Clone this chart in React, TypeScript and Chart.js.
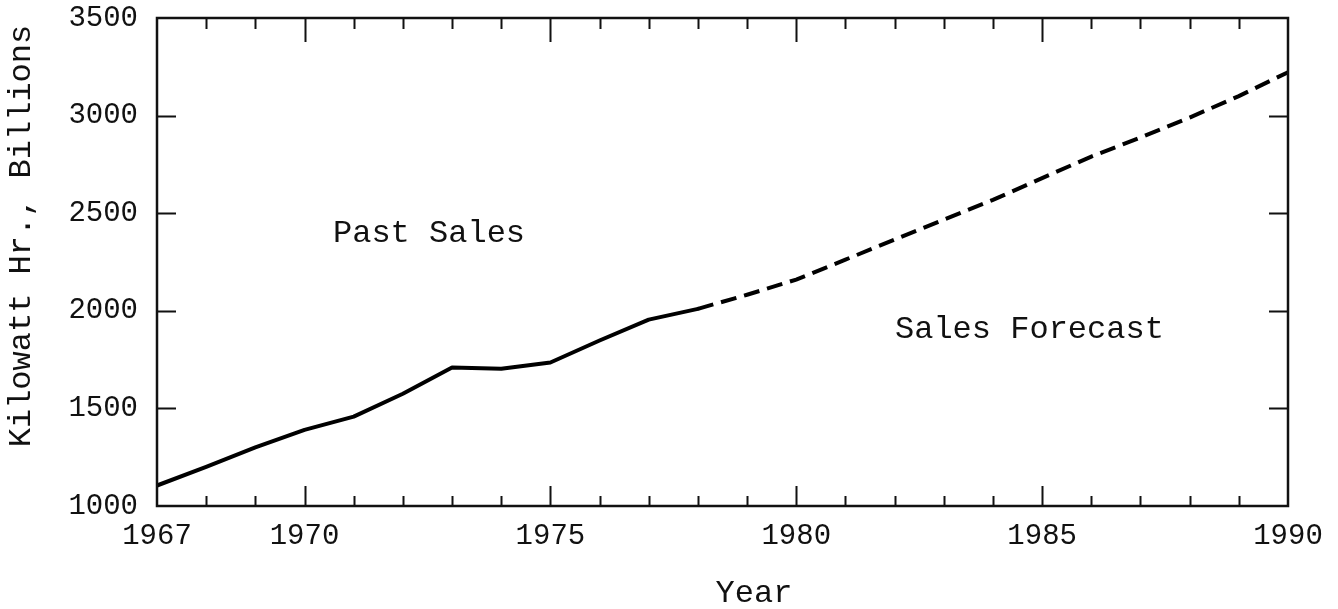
import React, { useEffect, useRef } from "react";
import { Chart, registerables } from "chart.js";

Chart.register(...registerables);

const pastYears = [1967, 1968, 1969, 1970, 1971, 1972, 1973, 1974, 1975, 1976, 1977, 1978];
const pastSales = [1105, 1200, 1300, 1390, 1458, 1575, 1710, 1703, 1735, 1848, 1955, 2010];

const forecastYears = [1978, 1979, 1980, 1981, 1982, 1983, 1984, 1985, 1986, 1987, 1988, 1989, 1990];
const forecastSales = [2010, 2082, 2160, 2262, 2365, 2467, 2568, 2680, 2790, 2888, 2990, 3100, 3222];

const xTickLabels = [1967, 1970, 1975, 1980, 1985, 1990];
const xMinorTicks = [1968, 1969, 1970, 1971, 1972, 1973, 1974, 1975, 1976, 1977, 1978, 1979, 1980, 1981, 1982, 1983, 1984, 1985, 1986, 1987, 1988, 1989];
const xMajorTicks = [1970, 1975, 1980, 1985];
const yTickLabels = [1000, 1500, 2000, 2500, 3000, 3500];

const FONT = "'Liberation Mono', 'DejaVu Sans Mono', monospace";
const INK = "#111";

const framePlugin = {
  id: "framePlugin",
  afterDraw(chart: any) {
    const { ctx, chartArea, scales } = chart;
    const { left, right, top, bottom } = chartArea;
    const xs = scales.x;
    const ys = scales.y;
    ctx.save();
    ctx.strokeStyle = INK;
    ctx.lineWidth = 2.5;
    ctx.strokeRect(left, top, right - left, bottom - top);
    ctx.lineWidth = 2;
    ctx.beginPath();
    for (const yr of xMinorTicks) {
      const px = Math.round(xs.getPixelForValue(yr)) + 0.5;
      const major = xMajorTicks.includes(yr);
      ctx.moveTo(px, bottom);
      ctx.lineTo(px, bottom - (major ? 20 : 10));
      ctx.moveTo(px, top);
      ctx.lineTo(px, top + (major ? 24 : 11));
    }
    for (const v of yTickLabels) {
      if (v === yTickLabels[0] || v === yTickLabels[yTickLabels.length - 1]) continue;
      const py = Math.round(ys.getPixelForValue(v)) + 0.5;
      ctx.moveTo(left, py);
      ctx.lineTo(left + 19, py);
      ctx.moveTo(right, py);
      ctx.lineTo(right - 19, py);
    }
    ctx.stroke();

    ctx.fillStyle = INK;
    ctx.font = `32px ${FONT}`;
    ctx.textBaseline = "middle";
    ctx.textAlign = "left";
    ctx.fillText("Past Sales", 333, 234);
    ctx.fillText("Sales Forecast", 895, 330);

    ctx.textAlign = "center";
    ctx.fillText("Year", 754, 594);

    ctx.translate(22, 236);
    ctx.rotate(-Math.PI / 2);
    ctx.fillText("Kilowatt Hr., Billions", 0, 0);
    ctx.restore();
  },
};

export default function App() {
  const ref = useRef<HTMLCanvasElement | null>(null);

  useEffect(() => {
    document.body.style.margin = "0";
    const canvas = ref.current;
    if (!canvas) return;
    const chart = new Chart(canvas, {
      type: "line",
      data: {
        datasets: [
          {
            label: "Past Sales",
            data: pastYears.map((x, i) => ({ x, y: pastSales[i] })),
            borderColor: "#000",
            borderWidth: 4,
            pointRadius: 0,
            tension: 0,
            fill: false,
            borderJoinStyle: "round",
            borderCapStyle: "round",
          },
          {
            label: "Sales Forecast",
            data: forecastYears.map((x, i) => ({ x, y: forecastSales[i] })),
            borderColor: "#000",
            borderWidth: 4,
            borderDash: [16, 8],
            pointRadius: 0,
            tension: 0,
            fill: false,
            borderCapStyle: "butt",
          },
        ],
      },
      options: {
        responsive: false,
        animation: false,
        devicePixelRatio: 1,
        layout: { padding: { left: 0, right: 50, top: 18, bottom: 0 } },
        plugins: {
          legend: { display: false },
          tooltip: { enabled: false },
          title: { display: false },
        },
        scales: {
          x: {
            type: "linear",
            min: 1967,
            max: 1990,
            afterBuildTicks: (scale: any) => {
              scale.ticks = xTickLabels.map((v) => ({ value: v }));
            },
            afterFit: (scale: any) => {
              scale.height = 103;
              scale.paddingLeft = 0;
              scale.paddingRight = 0;
            },
            ticks: {
              autoSkip: false,
              maxRotation: 0,
              padding: 13,
              color: INK,
              font: { family: FONT, size: 29 },
              callback: (v: any) => String(v),
            },
            grid: { display: false, drawTicks: false },
            border: { display: false },
          },
          y: {
            type: "linear",
            min: 1000,
            max: 3500,
            afterBuildTicks: (scale: any) => {
              scale.ticks = yTickLabels.map((v) => ({ value: v }));
            },
            afterFit: (scale: any) => {
              scale.width = 157;
              scale.paddingTop = 0;
              scale.paddingBottom = 0;
            },
            ticks: {
              autoSkip: false,
              padding: 19,
              color: INK,
              font: { family: FONT, size: 29 },
              callback: (v: any) => String(v),
            },
            grid: { display: false, drawTicks: false },
            border: { display: false },
          },
        },
      },
      plugins: [framePlugin],
    } as any);
    return () => chart.destroy();
  }, []);

  return (
    <div style={{ width: 1338, height: 609, background: "#fff" }}>
      <canvas ref={ref} width={1338} height={609} style={{ display: "block" }} />
    </div>
  );
}
